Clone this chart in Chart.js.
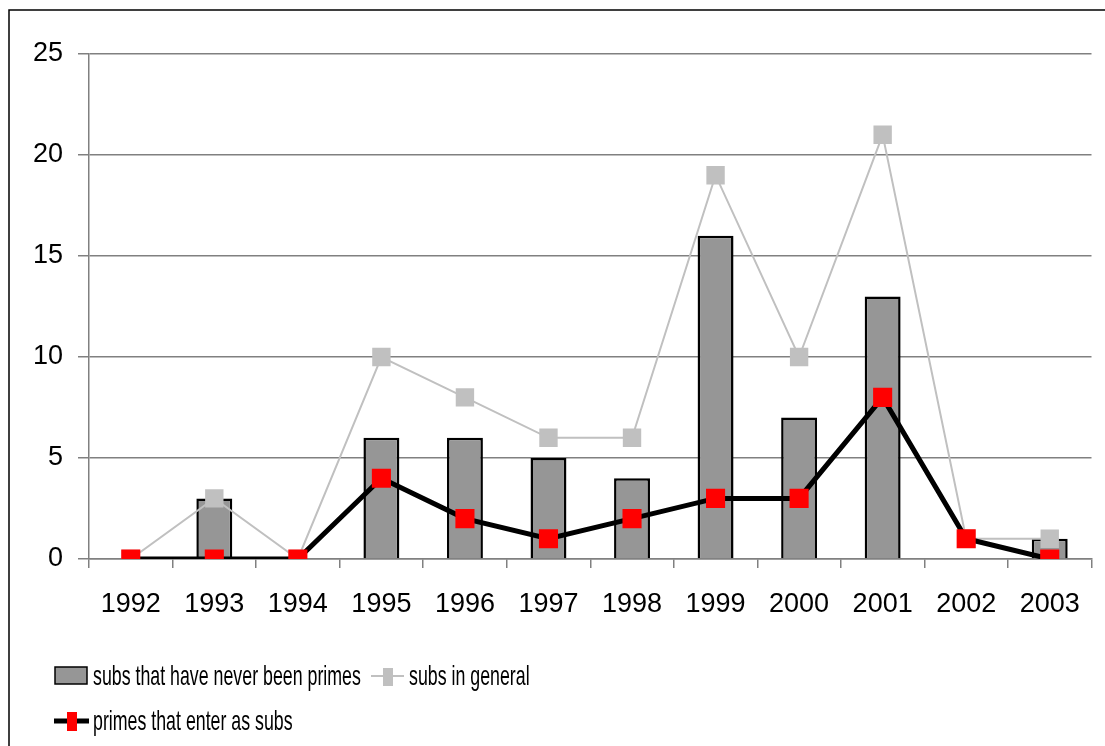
<!DOCTYPE html>
<html>
<head>
<meta charset="utf-8">
<script src="https://cdn.jsdelivr.net/npm/chart.js@4/dist/chart.umd.min.js"></script>
<style>
  html, body { margin: 0; padding: 0; background: #fff; }
  canvas { display: block; }
</style>
</head>
<body>
<canvas id="c" width="1105" height="746"></canvas>
<script>
const years = ['1992', '1993', '1994', '1995', '1996', '1997', '1998', '1999', '2000', '2001', '2002', '2003'];
const neverPrimes = [0, 3, 0, 6, 6, 5, 4, 16, 7, 13, 0, 1];
const subsGeneral = [0, 3, 0, 10, 8, 6, 6, 19, 10, 21, 1, 1];
const primesAsSubs = [0, 0, 0, 4, 2, 1, 2, 3, 3, 8, 1, 0];
const yMax = 25;
const yStep = 5;

const fontFamily = "'Liberation Sans', Arial, sans-serif";
Chart.defaults.font.family = fontFamily;
Chart.defaults.color = '#000';

// outer frame + hand drawn legend (excel style, narrow text)
const framePlugin = {
    id: 'frame',
    beforeDraw(chart) {
        const ctx = chart.ctx;
        ctx.save();
        ctx.strokeStyle = '#000';
        ctx.lineWidth = 1.5;
        ctx.beginPath();
        ctx.moveTo(9, 760);
        ctx.lineTo(9, 10);
        ctx.lineTo(1120, 10);
        ctx.stroke();
        ctx.restore();
    },
    afterDraw(chart) {
        const ctx = chart.ctx;
        const ds = chart.data.datasets;
        ctx.save();

        // bar item
        ctx.fillStyle = ds[2].backgroundColor;
        ctx.fillRect(55, 667, 32, 17);
        ctx.strokeStyle = '#000';
        ctx.lineWidth = 1.5;
        ctx.strokeRect(55, 667, 32, 17);

        // grey line item
        ctx.strokeStyle = ds[1].borderColor;
        ctx.lineWidth = 2;
        ctx.beginPath();
        ctx.moveTo(371, 676);
        ctx.lineTo(404, 676);
        ctx.stroke();
        ctx.fillStyle = ds[1].pointBackgroundColor;
        ctx.fillRect(383, 668, 10, 18);

        // black line item
        ctx.strokeStyle = ds[0].borderColor;
        ctx.lineWidth = 5;
        ctx.beginPath();
        ctx.moveTo(54, 721);
        ctx.lineTo(89, 721);
        ctx.stroke();
        ctx.fillStyle = ds[0].pointBackgroundColor;
        ctx.fillRect(67, 712, 10, 19);

        ctx.fillStyle = '#000';
        ctx.font = '28px ' + fontFamily;
        ctx.textBaseline = 'alphabetic';
        const drawNarrow = (text, x, y) => {
            ctx.save();
            ctx.translate(x, y);
            ctx.scale(0.635, 1);
            ctx.fillText(text, 0, 0);
            ctx.restore();
        };
        drawNarrow(ds[2].label, 93, 685);
        drawNarrow(ds[1].label, 409, 685);
        drawNarrow(ds[0].label, 93, 730);
        ctx.restore();
    }
};

const chart = new Chart(document.getElementById('c').getContext('2d'), {
    data: {
        labels: years,
        datasets: [
            {
                type: 'line',
                label: 'primes that enter as subs',
                data: primesAsSubs,
                borderColor: '#000',
                borderWidth: 5,
                tension: 0,
                pointStyle: 'rect',
                pointRadius: 13.5,
                pointBackgroundColor: '#ff0000',
                pointBorderWidth: 0,
                order: 1
            },
            {
                type: 'line',
                label: 'subs in general',
                data: subsGeneral,
                borderColor: '#c0c0c0',
                borderWidth: 2,
                tension: 0,
                pointStyle: 'rect',
                pointRadius: 13,
                pointBackgroundColor: '#c0c0c0',
                pointBorderWidth: 0,
                order: 2
            },
            {
                type: 'bar',
                label: 'subs that have never been primes',
                data: neverPrimes,
                backgroundColor: '#969696',
                borderColor: '#000',
                borderWidth: 2.5,
                barPercentage: 0.43,
                categoryPercentage: 1,
                order: 3
            }
        ]
    },
    options: {
        responsive: false,
        animation: false,
        events: [],
        layout: {
            padding: { left: 0, top: 54, right: 8, bottom: 0 }
        },
        scales: {
            x: {
                offset: true,
                grid: {
                    display: true,
                    offset: true,
                    drawOnChartArea: false,
                    drawTicks: true,
                    tickLength: 9,
                    color: '#808080',
                    lineWidth: 1.5
                },
                border: { display: true, color: '#808080', width: 1.5 },
                ticks: {
                    font: { size: 27 },
                    padding: 20,
                    maxRotation: 0,
                    autoSkip: false
                },
                afterFit: scale => { scale.height = 187; }
            },
            y: {
                min: 0,
                max: yMax,
                grid: {
                    color: '#808080',
                    lineWidth: 1.5,
                    drawTicks: true,
                    tickLength: 11
                },
                border: { display: true, color: '#808080', width: 1.5 },
                ticks: {
                    stepSize: yStep,
                    font: { size: 27 },
                    padding: 15
                },
                afterFit: scale => { scale.width = 89; }
            }
        },
        plugins: {
            legend: { display: false },
            tooltip: { enabled: false },
            title: { display: false }
        }
    },
    plugins: [framePlugin]
});
</script>
</body>
</html>
